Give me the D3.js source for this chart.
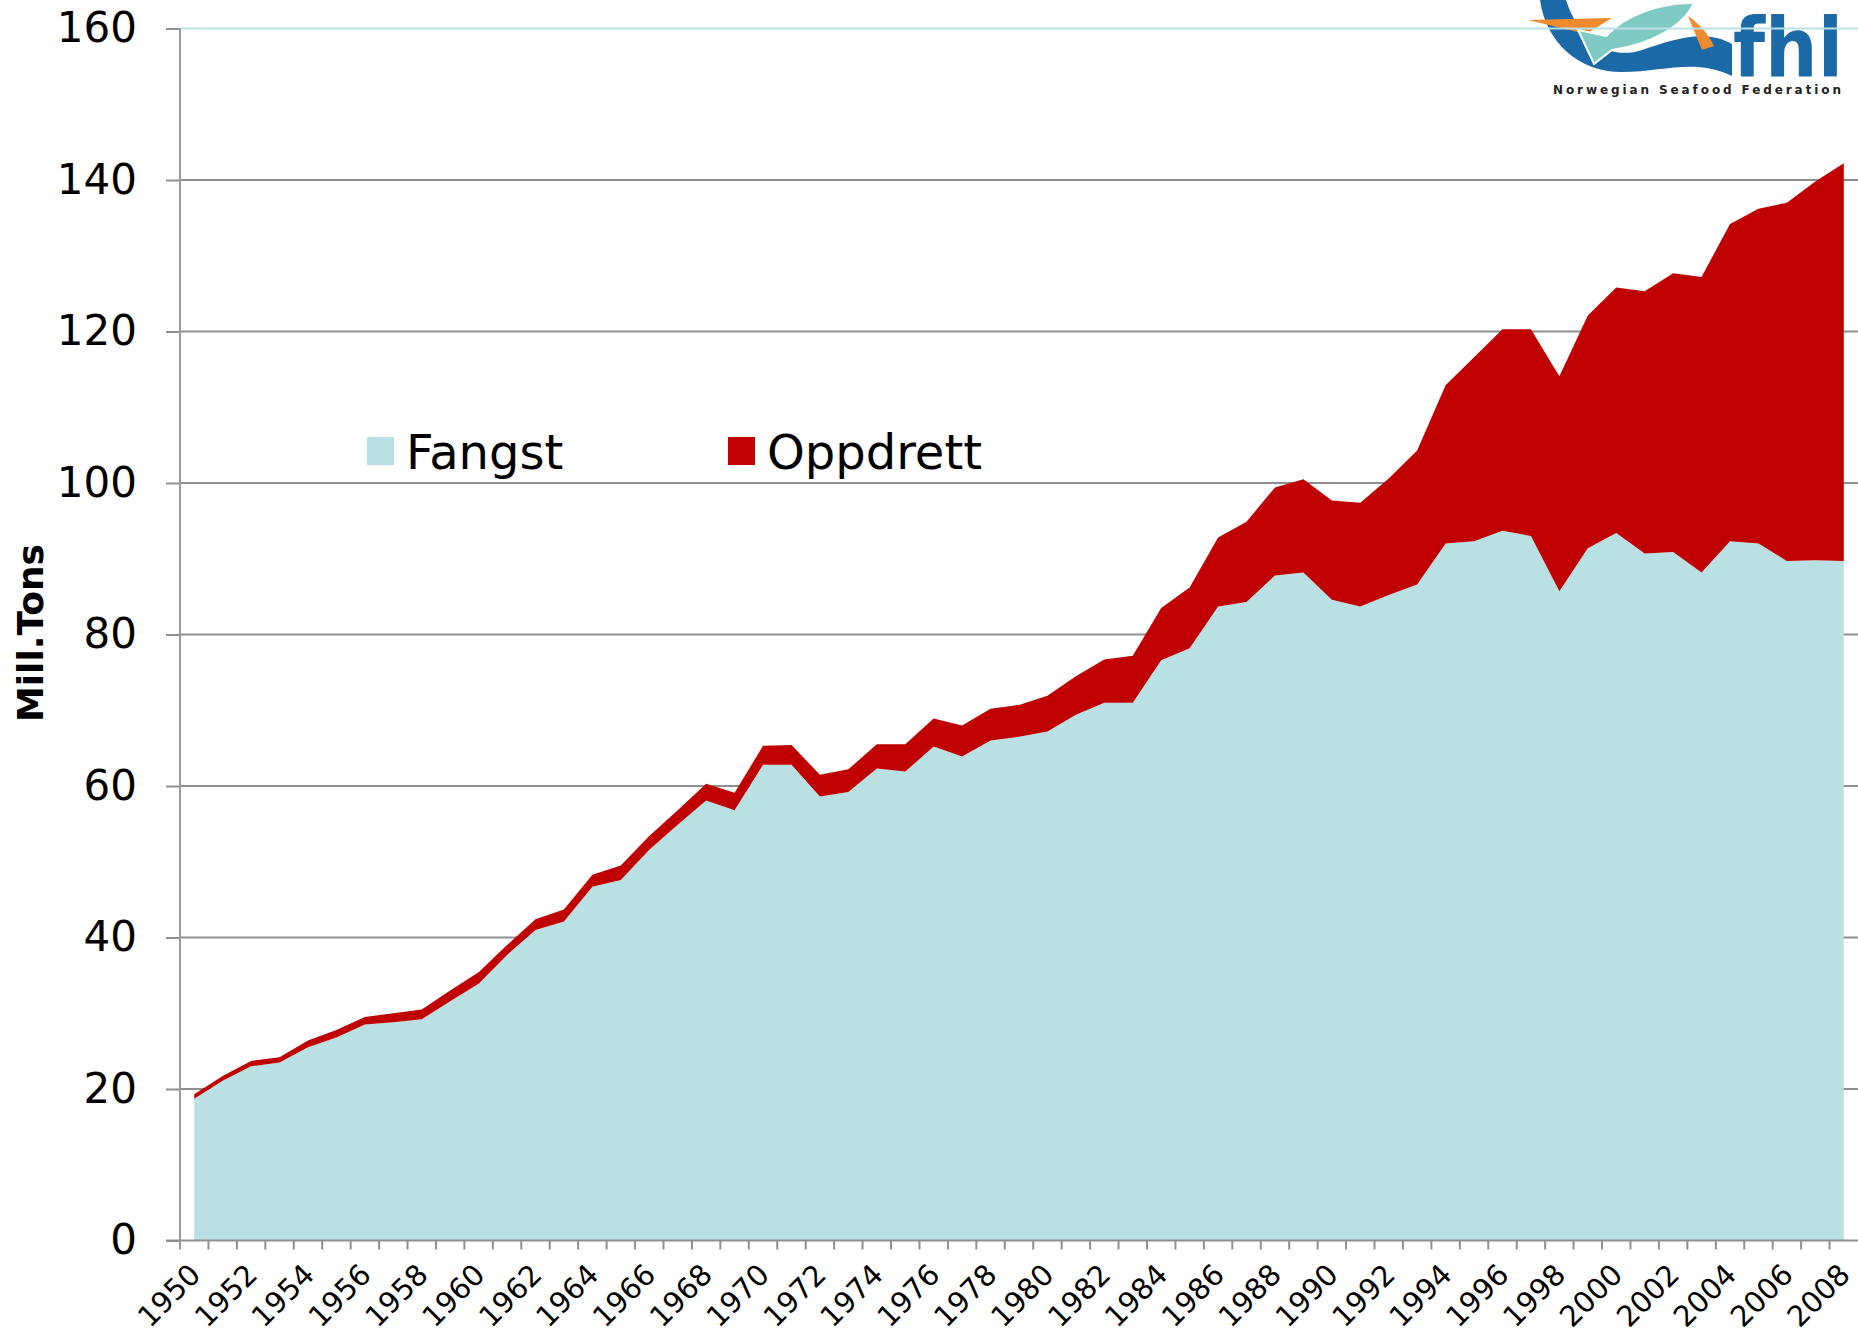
<!DOCTYPE html>
<html>
<head>
<meta charset="utf-8">
<script src="https://cdn.jsdelivr.net/npm/d3@7"></script>
<style>
body { margin: 0; background: #fff; }
svg { display: block; font-family: "DejaVu Sans", Verdana, sans-serif; }
</style>
</head>
<body>
<svg width="1858" height="1335"></svg>
<script>
const years = [1950, 1951, 1952, 1953, 1954, 1955, 1956, 1957, 1958, 1959,
    1960, 1961, 1962, 1963, 1964, 1965, 1966, 1967, 1968, 1969,
    1970, 1971, 1972, 1973, 1974, 1975, 1976, 1977, 1978, 1979,
    1980, 1981, 1982, 1983, 1984, 1985, 1986, 1987, 1988, 1989,
    1990, 1991, 1992, 1993, 1994, 1995, 1996, 1997, 1998, 1999,
    2000, 2001, 2002, 2003, 2004, 2005, 2006, 2007, 2008]

// capture (Fangst), mill. tons
const fangst = [18.7, 21.1, 23.0, 23.5, 25.5, 26.8, 28.5, 28.8, 29.2, 31.6,
    33.9, 37.7, 41.0, 42.1, 46.7, 47.6, 51.6, 54.9, 58.1, 56.8,
    62.8, 62.8, 58.6, 59.2, 62.3, 61.9, 65.2, 63.9, 66.0, 66.5,
    67.2, 69.4, 71.0, 71.0, 76.6, 78.2, 83.7, 84.3, 87.8, 88.2,
    84.6, 83.7, 85.2, 86.6, 92.0, 92.3, 93.7, 93.0, 85.7, 91.4,
    93.4, 90.7, 90.9, 88.2, 92.3, 92.0, 89.7, 89.8, 89.7]

// aquaculture (Oppdrett), mill. tons
const oppdrett = [0.6, 0.6, 0.7, 0.7, 0.9, 1.0, 1.0, 1.2, 1.3, 1.4,
    1.5, 1.3, 1.4, 1.6, 1.6, 1.9, 1.8, 1.9, 2.2, 2.3,
    2.5, 2.6, 2.9, 3.0, 3.2, 3.6, 3.7, 4.1, 4.2, 4.2,
    4.7, 5.1, 5.7, 6.2, 6.9, 8.0, 9.1, 10.6, 11.6, 12.3,
    13.1, 13.7, 15.4, 17.7, 20.9, 24.3, 26.6, 27.3, 28.4, 30.7,
    32.4, 34.6, 36.8, 39.0, 41.9, 44.2, 47.3, 50.0, 52.5]

const yTicks = [0, 20, 40, 60, 80, 100, 120, 140, 160]
const labelYears = years.filter(d => d % 2 == 0)

const seriesNames = ["Fangst", "Oppdrett"]
const colors = { Fangst: "#b9e0e3", Oppdrett: "#c00000" }

const data = years.map((yr, i) => ({ year: yr, Fangst: fangst[i], Oppdrett: oppdrett[i] }))
const stacked = d3.stack().keys(seriesNames)(data)

const svg = d3.select("svg")

let xScale = d3.scaleBand().domain(years).range([180, 1858])
let xMid = yr => xScale(yr) + xScale.bandwidth() / 2
let yScale = d3.scaleLinear().domain([0, 160]).range([1240.5, 28.5])

// grid lines (behind the areas)
svg.append("g")
    .attr("id", "gridG")
    .selectAll("line")
    .data(yTicks.filter(d => d > 0 && d < 160))
    .enter()
    .append("line")
    .attr("x1", 180)
    .attr("x2", 1858)
    .attr("y1", d => yScale(d))
    .attr("y2", d => yScale(d))
    .style("stroke", "#8f8f8f")
    .style("stroke-width", 2)

// stacked areas
let area = d3.area()
    .x(d => xMid(d.data.year))
    .y0(d => yScale(d[0]))
    .y1(d => yScale(d[1]))

svg.append("g")
    .attr("id", "areaG")
    .selectAll("path")
    .data(stacked)
    .enter()
    .append("path")
    .attr("d", area)
    .style("fill", d => colors[d.key])

// logo (top right)
const logo = svg.append("g").attr("id", "logoG")
logo.append("path")
    .attr("d", "M1540,0 C1546,42 1578,72 1622,72 C1664,72 1694,58 1732,76 L1732,44 C1704,28 1672,40 1642,50 C1612,60 1580,44 1566,0 Z")
    .style("fill", "#1b69a6")
logo.append("path")
    .attr("d", "M1528,20 L1612,18 L1586,34 Z")
    .style("fill", "#f08a2e")
logo.append("path")
    .attr("d", "M1688,16 L1702,50 L1714,46 C1708,34 1700,24 1688,16 Z")
    .style("fill", "#f08a2e")
logo.append("path")
    .attr("d", "M1578,30 L1606,36 C1624,16 1660,2 1694,3 C1684,26 1652,44 1612,50 L1594,64 Z")
    .style("fill", "#7fcbc4")
    .style("stroke", "#fff")
    .style("stroke-width", 2)
logo.append("text")
    .attr("x", 1733)
    .attr("y", 76)
    .attr("textLength", 110)
    .attr("lengthAdjust", "spacingAndGlyphs")
    .style("font-size", "82px")
    .style("font-weight", "bold")
    .style("fill", "#1b69a6")
    .text("fhl")
logo.append("text")
    .attr("x", 1553)
    .attr("y", 94)
    .attr("textLength", 288)
    .attr("lengthAdjust", "spacing")
    .style("font-size", "12px")
    .style("font-weight", "bold")
    .style("fill", "#222")
    .text("Norwegian  Seafood  Federation")

// top line (160) is light blue
svg.append("line")
    .attr("x1", 180)
    .attr("x2", 1858)
    .attr("y1", yScale(160))
    .attr("y2", yScale(160))
    .style("stroke", "#b9e0e3")
    .style("stroke-width", 2)

// y axis
var yAxis = d3.axisLeft(yScale)
    .tickValues(yTicks)
    .tickSize(14)
    .tickPadding(29)

var yAxisG = svg.append("g")
    .attr("id", "yAxisG")
    .attr("transform", "translate(180,0)")
    .call(yAxis)

yAxisG.select(".domain").remove()
yAxisG.selectAll("line")
    .style("stroke", "#8f8f8f")
    .style("stroke-width", 2)
yAxisG.selectAll("text")
    .style("font-family", "DejaVu Sans, Verdana, sans-serif")
    .style("font-size", "42px")
    .style("fill", "#000")

svg.append("line")
    .attr("x1", 180)
    .attr("x2", 180)
    .attr("y1", yScale(160))
    .attr("y2", yScale(0) + 9)
    .style("stroke", "#969b9c")
    .style("stroke-width", 2)

// x axis line + ticks between categories
svg.append("line")
    .attr("x1", 166)
    .attr("x2", 1858)
    .attr("y1", yScale(0))
    .attr("y2", yScale(0))
    .style("stroke", "#8f8f8f")
    .style("stroke-width", 2)

svg.append("g")
    .attr("id", "xTickG")
    .selectAll("line")
    .data(years.slice(1))
    .enter()
    .append("line")
    .attr("x1", d => xScale(d))
    .attr("x2", d => xScale(d))
    .attr("y1", yScale(0))
    .attr("y2", yScale(0) + 9)
    .style("stroke", "#8f8f8f")
    .style("stroke-width", 2)

svg.append("g")
    .attr("id", "xLabelG")
    .selectAll("text")
    .data(labelYears)
    .enter()
    .append("text")
    .attr("transform", d => "translate(" + (xMid(d) + 8) + "," + (yScale(0) + 36) + ") rotate(-45)")
    .style("text-anchor", "end")
    .style("font-size", "29px")
    .text(d => d)

// y-axis label
svg.append("text")
    .attr("transform", "translate(43,633) rotate(-90)")
    .style("text-anchor", "middle")
    .style("font-size", "36px")
    .style("font-weight", "bold")
    .text("Mill.Tons")

// legend
const legendX = [367, 728]
var legendG = svg.append("g")
    .attr("id", "legendG")
    .selectAll("g")
    .data(seriesNames)
    .enter()
    .append("g")
    .attr("transform", (d, i) => "translate(" + legendX[i] + ",437)")

legendG.append("rect")
    .attr("width", 27)
    .attr("height", 28)
    .style("fill", d => colors[d])

legendG.append("text")
    .attr("x", 39)
    .attr("y", 32)
    .style("font-size", "48px")
    .text(d => d)
</script>
</body>
</html>
